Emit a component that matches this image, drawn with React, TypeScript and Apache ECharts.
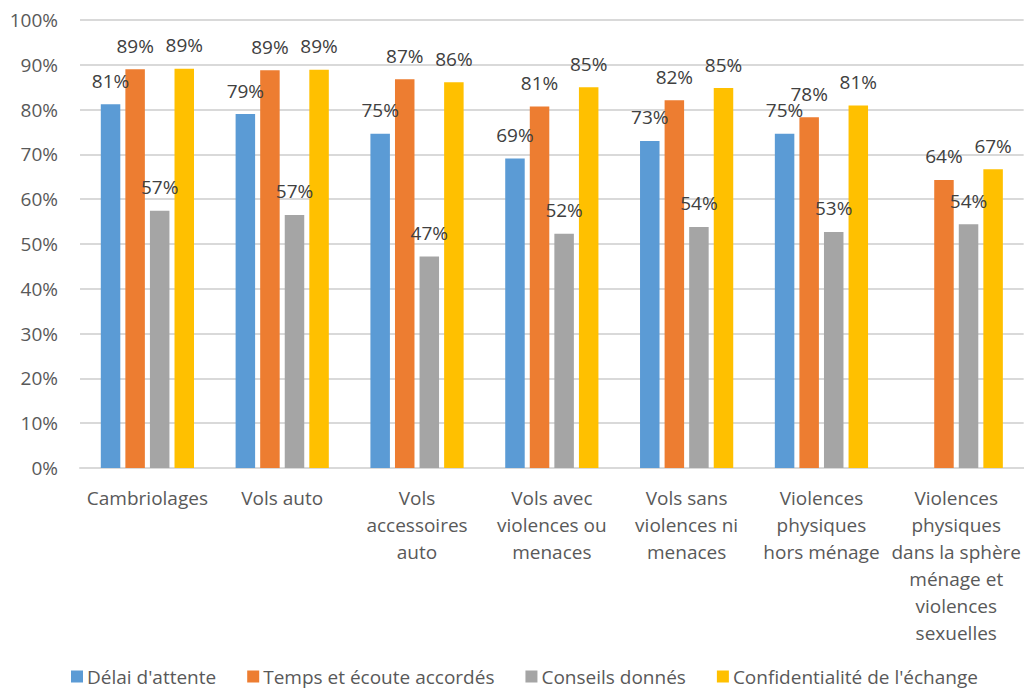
import React, { useEffect, useRef } from "react";
import * as echarts from "echarts";

const categories = [
  "Cambriolages",
  "Vols auto",
  "Vols\naccessoires\nauto",
  "Vols avec\nviolences ou\nmenaces",
  "Vols sans\nviolences ni\nmenaces",
  "Violences\nphysiques\nhors ménage",
  "Violences\nphysiques\ndans la sphère\nménage et\nviolences\nsexuelles",
];

const seriesNames = [
  "Délai d'attente",
  "Temps et écoute accordés",
  "Conseils donnés",
  "Confidentialité de l'échange",
];

const delaiAttente = [81.2, 79.0, 74.6, 69.1, 73.0, 74.6, null];
const tempsEcoute = [89.0, 88.8, 86.8, 80.7, 82.1, 78.3, 64.3];
const conseilsDonnes = [57.4, 56.5, 47.2, 52.3, 53.8, 52.7, 54.4];
const confidentialite = [89.1, 88.9, 86.1, 85.0, 84.8, 80.9, 66.7];

const yTicks = [0, 10, 20, 30, 40, 50, 60, 70, 80, 90, 100];

const colors = ["#5B9BD5", "#ED7D31", "#A5A5A5", "#FFC000"];
const FONT = "'Open Sans', 'Noto Sans', sans-serif";

export default function App() {
  const ref = useRef<HTMLDivElement>(null);

  useEffect(() => {
    if (!ref.current) return;
    const chart = echarts.init(ref.current, undefined, { renderer: "svg" });
    const data = [delaiAttente, tempsEcoute, conseilsDonnes, confidentialite];
    chart.setOption({
      animation: false,
      backgroundColor: "#ffffff",
      textStyle: { fontFamily: FONT },
      grid: { left: 80, right: 0, top: 20, bottom: 225, containLabel: false },
      legend: {
        data: seriesNames,
        left: 71,
        top: 667,
        padding: 0,
        icon: "rect",
        itemWidth: 12,
        itemHeight: 12,
        itemGap: 31,
        textStyle: { fontFamily: FONT, fontSize: 19, color: "#595959", padding: [0, 0, 0, -1] },
      },
      xAxis: {
        type: "category",
        data: categories,
        axisLine: { lineStyle: { color: "#D9D9D9", width: 2 } },
        axisTick: { show: false },
        axisLabel: {
          interval: 0,
          margin: 16,
          color: "#595959",
          fontFamily: FONT,
          fontSize: 19,
          lineHeight: 27,
          align: "center",
        },
      },
      yAxis: {
        type: "value",
        min: yTicks[0],
        max: yTicks[yTicks.length - 1],
        interval: 10,
        axisLine: { show: false },
        axisTick: { show: false },
        splitLine: { lineStyle: { color: "#D9D9D9", width: 2 } },
        axisLabel: {
          margin: 22,
          color: "#595959",
          fontFamily: FONT,
          fontSize: 19,
          formatter: "{value}%",
        },
      },
      series: seriesNames.map((name, i) => ({
        name,
        type: "bar",
        data: data[i],
        barWidth: 19.5,
        barGap: "26%",
        itemStyle: { color: colors[i] },
        label: {
          show: true,
          position: "top",
          distance: 14,
          color: "#404040",
          fontFamily: FONT,
          fontSize: 19,
          formatter: (p: any) => (p.value == null ? "" : Math.round(p.value) + "%"),
        },
      })),
    });
    return () => chart.dispose();
  }, []);

  return (
    <div
      ref={ref}
      style={{ position: "fixed", left: 0, top: 0, width: 1024, height: 693 }}
    />
  );
}
